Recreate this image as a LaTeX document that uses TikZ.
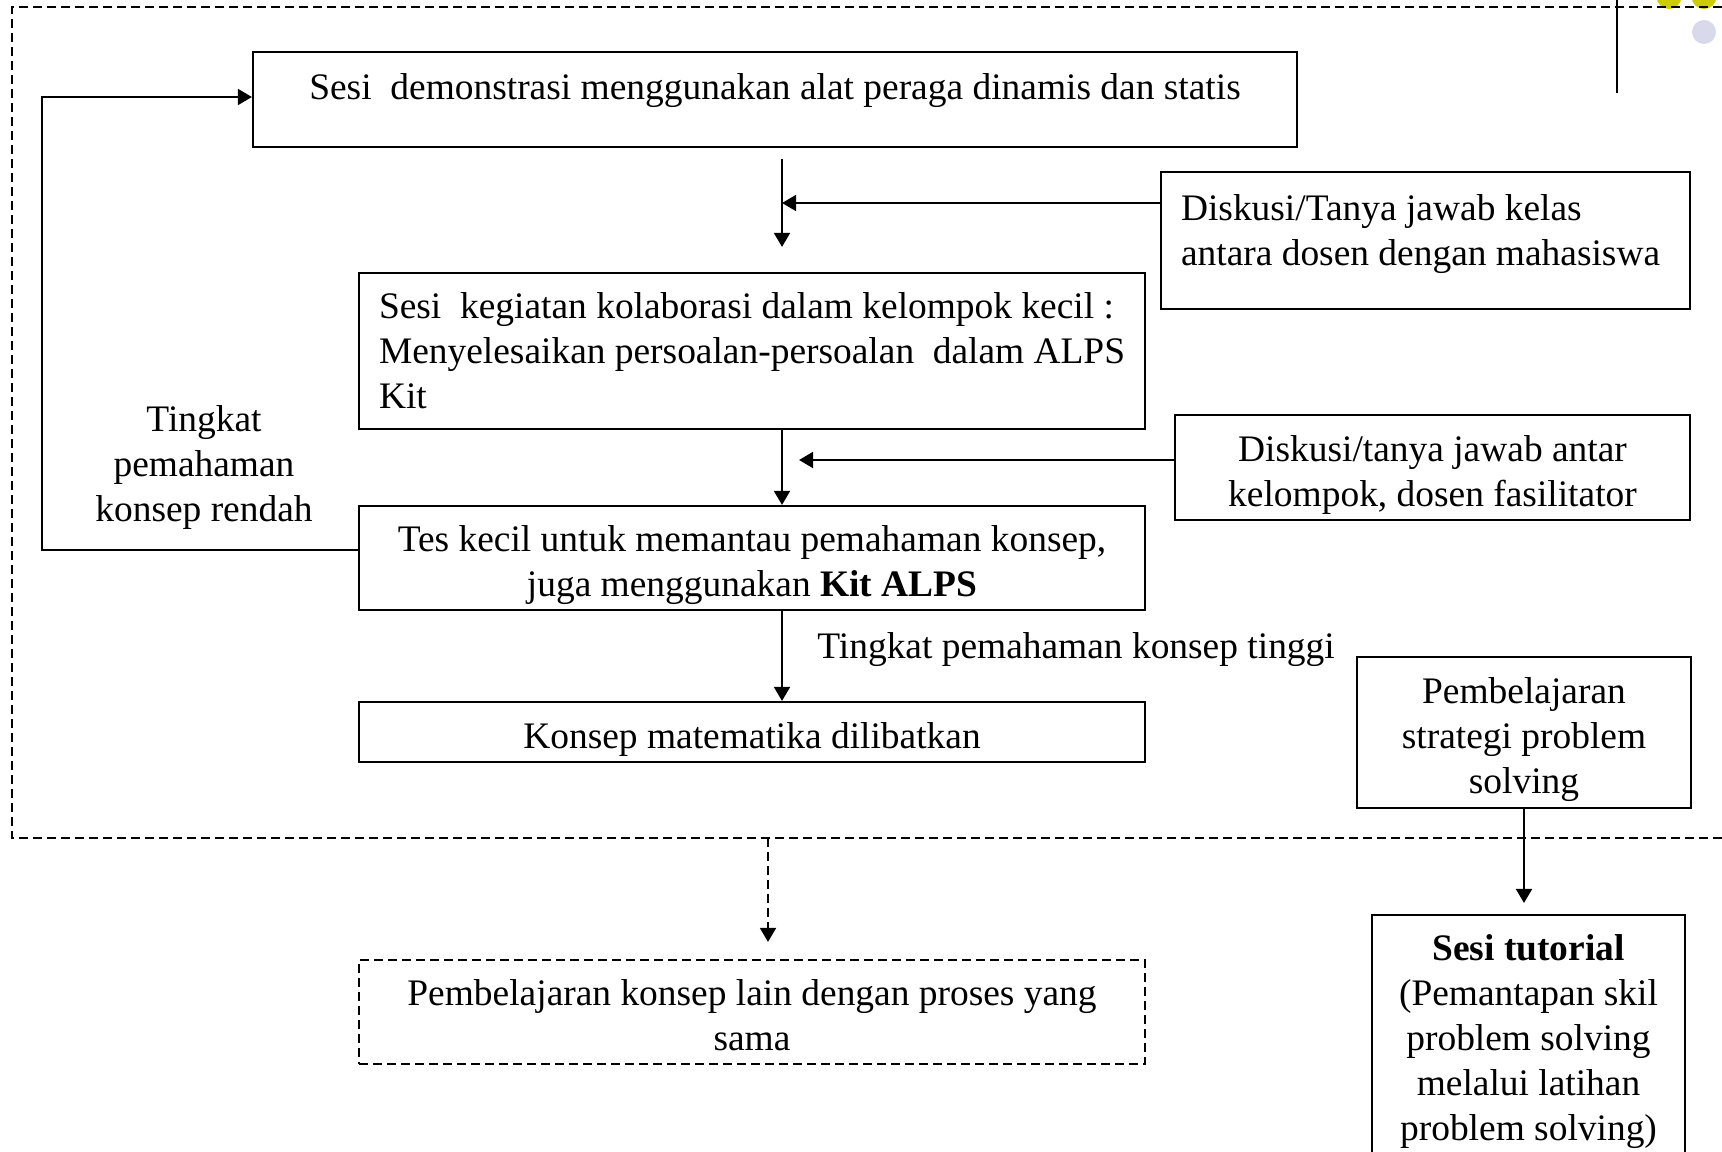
\documentclass[tikz,border=0pt]{standalone}
\usepackage{fontspec}
\setmainfont{Liberation Serif}
\usetikzlibrary{arrows.meta}
\definecolor{Y}{RGB}{204,204,0}
\definecolor{L}{RGB}{217,217,236}
% penyangga baris pertama / terakhir
\newcommand{\ats}[1][0.8cm]{\rule{0pt}{#1}}
\newcommand{\bwh}{\rule[-0.42cm]{0pt}{0.42cm}}

\tikzset{
  kotak/.style={draw, line width=1.2pt, inner sep=0pt, align=center},
  panah/.style={-{Triangle[length=8pt,width=9pt]}, line width=1.4pt},
  putus/.style={dash pattern=on 0.18cm off 0.1cm}
}

\begin{document}
\begin{tikzpicture}[font=\fontsize{21.3}{25.6}\selectfont]
  \useasboundingbox (0,0) rectangle (34.44,-23.04);
  % Hiasan pojok kanan atas
  \fill[color=Y] (33.38,0.07) circle (0.25);
  \fill[color=Y] (34.08,0.07) circle (0.25);
  \fill[color=L] (34.08,-0.64) circle (0.24);
  \draw[line width=1.4pt] (32.34,0.2) -- (32.34,-1.86);

  % Kotak luar putus-putus
  \draw[putus, line width=1.2pt] (35,-0.14) -- (0.24,-0.14) -- (0.24,-16.76) -- (35,-16.76);

  % Kotak-kotak alur
  \node[kotak, minimum width=20.88cm, minimum height=1.9cm, text height=0.5cm, text depth=0.5cm] (demo) at (15.5,-1.99)
    {Sesi~ demonstrasi menggunakan alat peraga dinamis dan statis};
  \node[kotak, minimum height=2.74cm, text width=9.78cm, inner xsep=0.4cm, align=flush left] (tanya1) at (28.51,-4.81)
    {Diskusi/Tanya jawab kelas\\ antara dosen dengan mahasiswa\bwh};
  \node[kotak, minimum height=3.12cm, text width=14.92cm, inner xsep=0.4cm, align=flush left] (kolab) at (15.04,-7.02)
    {Sesi~ kegiatan kolaborasi dalam kelompok kecil :\\ Menyelesaikan persoalan-persoalan~ dalam ALPS\\ Kit};
  \node[kotak, minimum width=10.3cm, minimum height=2.1cm] (tanya2) at (28.65,-9.35)
    {\ats Diskusi/tanya jawab antar\\ kelompok, dosen fasilitator};
  \node[kotak, minimum width=15.72cm, minimum height=2.08cm] (tes) at (15.04,-11.16)
    {\ats Tes kecil untuk memantau pemahaman konsep,\\ juga menggunakan \textbf{Kit ALPS}};
  \node[kotak, minimum width=15.72cm, minimum height=1.2cm] (konsep) at (15.04,-14.64)
    {\ats Konsep matematika dilibatkan};
  \node[kotak, minimum width=6.68cm, minimum height=3.02cm] (strategi) at (30.48,-14.65)
    {\ats Pembelajaran\\ strategi problem\\ solving};
  \node[kotak, putus, minimum width=15.72cm, minimum height=2.08cm] (lain) at (15.04,-20.24)
    {\ats[0.65cm]Pembelajaran konsep lain dengan proses yang\\ sama};
  % kotak tutorial terpotong di bawah
  \node[kotak, anchor=north, minimum width=6.26cm, inner ysep=0.25cm, text depth=2cm] (tutorial) at (30.57,-18.28)
    {\ats[0.65cm]\textbf{Sesi tutorial}\\ (Pemantapan skil\\ problem solving\\ melalui latihan\\ problem solving)};

  % Label
  \node[align=center, inner sep=0pt] (rendah) at (4.08,-9.35) {Tingkat\\ pemahaman\\ konsep rendah};
  \node[anchor=west, inner sep=0pt] (tinggi) at (16.34,-12.99) {Tingkat pemahaman konsep tinggi};

  % Titik bantu
  \coordinate (m) at (15.64,0);
  \coordinate (h1) at (15.64,-4.06);
  \coordinate (h2) at (15.98,-9.2);
  \coordinate (k) at (0.84,-11.0);
  \coordinate (d) at (15.36,-16.76);

  % Panah
  \draw[panah, shorten <=0.22cm, shorten >=0.5cm] (demo.south -| m) -- (kolab.north -| m);
  \draw[panah] (tanya1.west |- h1) -- (h1);
  \draw[panah] (kolab.south -| m) -- (tes.north -| m);
  \draw[panah] (tanya2.west |- h2) -- (h2);
  \draw[panah] (tes.south -| m) -- (konsep.north -| m);
  \draw[panah] (tes.west |- k) -- (k) |- ([yshift=0.05cm]demo.west);
  \draw[panah, putus, shorten >=0.34cm] (d) -- (d |- lain.north);
  \draw[panah, shorten >=0.22cm] (strategi.south) -- (strategi.south |- tutorial.north);
\end{tikzpicture}
\end{document}
